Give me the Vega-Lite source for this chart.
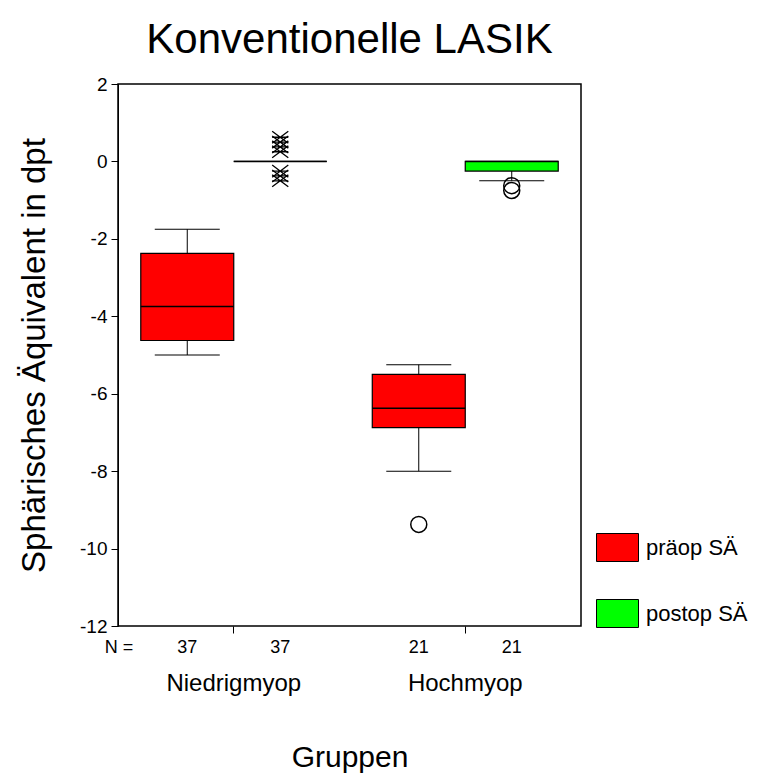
{
  "$schema": "https://vega.github.io/schema/vega-lite/v6.json",
  "autosize": "none",
  "width": 463,
  "height": 542,
  "padding": {"left": 118, "top": 84, "right": 176, "bottom": 148},
  "background": "white",
  "config": {
    "font": "Liberation Sans",
    "view": {"stroke": "#000", "strokeWidth": 1.5},
    "axis": {"grid": false, "domainColor": "#000", "tickColor": "#000", "labelColor": "#000", "titleColor": "#000", "titleFontWeight": "normal"}
  },
  "title": {"text": "Konventionelle LASIK", "fontSize": 42, "fontWeight": "normal", "color": "#000", "anchor": "middle", "offset": 13},
  "datasets": {
    "boxes": [
      {"group": "Niedrigmyop", "phase": "präop SÄ", "lo": -5.0, "q1": -4.625, "med": -3.75, "q3": -2.375, "hi": -1.75, "n": 37},
      {"group": "Niedrigmyop", "phase": "postop SÄ", "lo": 0, "q1": 0, "med": 0, "q3": 0, "hi": 0, "n": 37},
      {"group": "Hochmyop", "phase": "präop SÄ", "lo": -8.0, "q1": -6.875, "med": -6.375, "q3": -5.5, "hi": -5.25, "n": 21},
      {"group": "Hochmyop", "phase": "postop SÄ", "lo": -0.5, "q1": -0.25, "med": 0, "q3": 0, "hi": 0, "n": 21}
    ],
    "outliers": [
      {"group": "Hochmyop", "phase": "präop SÄ", "value": -9.375},
      {"group": "Hochmyop", "phase": "postop SÄ", "value": -0.625},
      {"group": "Hochmyop", "phase": "postop SÄ", "value": -0.75}
    ],
    "extremes": [
      {"group": "Niedrigmyop", "phase": "postop SÄ", "value": 0.625},
      {"group": "Niedrigmyop", "phase": "postop SÄ", "value": 0.5},
      {"group": "Niedrigmyop", "phase": "postop SÄ", "value": 0.375},
      {"group": "Niedrigmyop", "phase": "postop SÄ", "value": 0.25},
      {"group": "Niedrigmyop", "phase": "postop SÄ", "value": -0.25},
      {"group": "Niedrigmyop", "phase": "postop SÄ", "value": -0.375},
      {"group": "Niedrigmyop", "phase": "postop SÄ", "value": -0.5}
    ]
  },
  "encoding": {
    "x": {
      "field": "group", "type": "nominal",
      "scale": {"domain": ["Niedrigmyop", "Hochmyop"], "paddingInner": 0, "paddingOuter": 0},
      "axis": {"title": "Gruppen", "titleFontSize": 30, "titleBaseline": "alphabetic", "titleY": 140,
               "labelFontSize": 24, "labelAngle": 0, "labelPadding": 38, "tickSize": 7, "domain": false}
    },
    "xOffset": {
      "field": "phase", "type": "nominal",
      "scale": {"domain": ["präop SÄ", "postop SÄ"], "paddingInner": 0, "paddingOuter": 0.245}
    }
  },
  "layer": [
    {
      "data": {"name": "boxes"},
      "mark": {"type": "rule", "color": "#000", "strokeWidth": 1},
      "encoding": {
        "y": {"field": "lo", "type": "quantitative",
              "scale": {"domain": [-12, 2], "nice": false, "zero": false},
              "axis": {"title": "Sphärisches Äquivalent in dpt", "titleFontSize": 33, "titleBaseline": "alphabetic", "titleX": -74,
                       "values": [2, 0, -2, -4, -6, -8, -10, -12], "labelExpr": "'' + datum.value",
                       "labelFontSize": 19, "labelPadding": 4, "tickSize": 7}},
        "y2": {"field": "hi"}
      }
    },
    {
      "data": {"name": "boxes"},
      "mark": {"type": "tick", "orient": "horizontal", "size": 65, "thickness": 1, "color": "#000", "opacity": 1},
      "encoding": {"y": {"field": "lo", "type": "quantitative"}}
    },
    {
      "data": {"name": "boxes"},
      "mark": {"type": "tick", "orient": "horizontal", "size": 65, "thickness": 1, "color": "#000", "opacity": 1},
      "encoding": {"y": {"field": "hi", "type": "quantitative"}}
    },
    {
      "data": {"name": "boxes"},
      "mark": {"type": "bar", "stroke": "#000", "strokeWidth": 1.2},
      "encoding": {
        "y": {"field": "q1", "type": "quantitative"},
        "y2": {"field": "q3"},
        "fill": {"field": "phase", "type": "nominal",
                 "scale": {"domain": ["präop SÄ", "postop SÄ"], "range": ["#ff0000", "#00ff00"]},
                 "legend": {"title": null, "orient": "none", "legendX": 485, "legendY": 449, "padding": 0,
                            "symbolType": "M-1.5,-1L1.5,-1L1.5,1L-1.5,1Z", "symbolSize": 784,
                            "symbolStrokeColor": "#000", "symbolStrokeWidth": 1, "symbolOpacity": 1,
                            "labelFontSize": 22, "labelColor": "#000", "labelOffset": 14, "rowPadding": 33}}
      }
    },
    {
      "data": {"name": "boxes"},
      "mark": {"type": "bar", "fill": null, "fillOpacity": 0, "stroke": "#000", "strokeWidth": 1.5},
      "encoding": {"y": {"field": "med", "type": "quantitative"}, "y2": {"field": "med"}}
    },
    {
      "data": {"name": "outliers"},
      "mark": {"type": "point", "shape": "circle", "filled": false, "size": 256, "stroke": "#000", "strokeWidth": 1.5, "opacity": 1},
      "encoding": {"y": {"field": "value", "type": "quantitative"}}
    },
    {
      "data": {"name": "extremes"},
      "mark": {"type": "point", "shape": "M-1,-0.75L1,0.75M-1,0.75L1,-0.75M-1,0L1,0", "filled": false, "size": 260, "stroke": "#000", "strokeWidth": 1.3, "opacity": 1},
      "encoding": {"y": {"field": "value", "type": "quantitative"}}
    },
    {
      "data": {"name": "boxes"},
      "mark": {"type": "text", "fontSize": 18, "color": "#000", "baseline": "alphabetic", "align": "center"},
      "encoding": {"y": {"value": {"expr": "height + 27"}}, "text": {"field": "n"}}
    },
    {
      "data": {"values": [{"label": "N ="}]},
      "mark": {"type": "text", "fontSize": 18, "color": "#000", "baseline": "alphabetic", "align": "center"},
      "encoding": {"x": {"value": 1}, "xOffset": null, "y": {"value": {"expr": "height + 27"}}, "text": {"field": "label"}}
    }
  ]
}
